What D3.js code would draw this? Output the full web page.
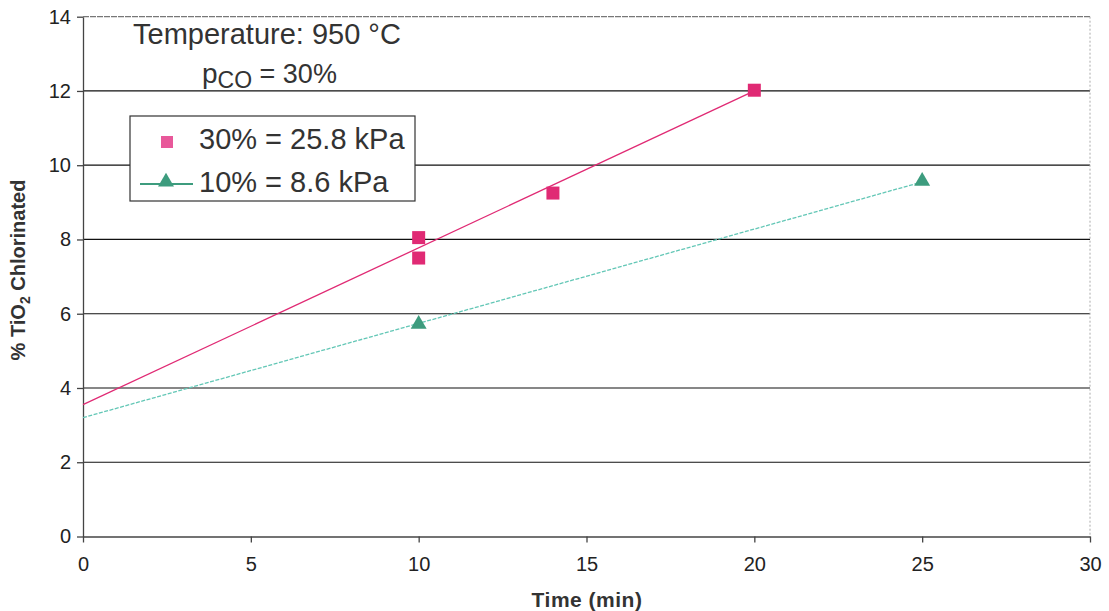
<!DOCTYPE html>
<html><head><meta charset="utf-8">
<script src="https://cdn.jsdelivr.net/npm/d3@7"></script>
<style>body{margin:0;background:#fff;} text{font-family:"Liberation Sans",Arial,sans-serif;}</style>
</head><body><svg id="c" width="1109" height="611"></svg>
<script>
const xTicks = [0,5,10,15,20,25,30];
const yTicks = [0,2,4,6,8,10,12,14];
const s30x = [10,10,14,20];
const s30y = [8.05,7.5,9.25,12.02];
const s10x = [10,25];
const s10y = [5.72,9.57];
const trend30 = [[0,3.55],[20,12.0]];
const trend10 = [[0,3.2],[25,9.55]];
const legendLabels = ["30% = 25.8 kPa","10% = 8.6 kPa"];

const svg = d3.select("#c");
const x = d3.scaleLinear().domain([0,30]).range([83,1090]);
const y = d3.scaleLinear().domain([0,14]).range([536.5,16.7]);
const pink="#e02a74", green="#3d9c7e", teal="#63c7b6";

svg.append("g").selectAll("line").data(yTicks.filter(d=>d>0&&d<14)).join("line")
  .attr("x1",x(0)).attr("x2",x(30)).attr("y1",d=>y(d)).attr("y2",d=>y(d))
  .attr("stroke","#111").attr("stroke-width",1.2);
svg.append("line").attr("x1",x(0)).attr("x2",x(30)).attr("y1",y(14)).attr("y2",y(14))
  .attr("stroke","#777").attr("stroke-width",1.3).attr("stroke-dasharray","6,1");
svg.append("line").attr("x1",x(30)).attr("x2",x(30)).attr("y1",y(14)).attr("y2",y(0))
  .attr("stroke","#aaa").attr("stroke-width",1).attr("stroke-dasharray","2,2");

const xa = svg.append("g").attr("transform",`translate(0,${y(0)})`)
  .call(d3.axisBottom(x).tickValues(xTicks).tickSize(6).tickSizeOuter(0).tickPadding(14));
const ya = svg.append("g").attr("transform",`translate(${x(0)},0)`)
  .call(d3.axisLeft(y).tickValues(yTicks).tickSize(6).tickSizeOuter(0).tickPadding(6));
[xa,ya].forEach(a=>{a.selectAll("path,line").attr("stroke","#444").attr("stroke-width",1.3);
  a.selectAll("text").attr("fill","#222").style("font-size","20px").style("font-family","Liberation Sans, Arial, sans-serif");});

const line = d3.line().x(d=>x(d[0])).y(d=>y(d[1]));
svg.append("path").attr("d",line(trend10)).attr("fill","none").attr("stroke",teal).attr("stroke-width",1.3).attr("stroke-dasharray","4,1.5");
svg.append("path").attr("d",line(trend30)).attr("fill","none").attr("stroke",pink).attr("stroke-width",1.3);

svg.append("g").selectAll("rect").data(s30x.map((v,i)=>[v,s30y[i]])).join("rect")
  .attr("x",d=>x(d[0])-6.5).attr("y",d=>y(d[1])-6.5).attr("width",13).attr("height",13).attr("fill",pink);
const tri = d3.symbol().type(d3.symbolTriangle).size(110);
svg.append("g").selectAll("path").data(s10x.map((v,i)=>[v,s10y[i]])).join("path")
  .attr("d",tri).attr("transform",d=>`translate(${x(d[0])},${y(d[1])})`).attr("fill",green);

svg.append("text").attr("x",133).attr("y",44).attr("fill","#333").style("font-size","29px").text("Temperature: 950 °C");
const p = svg.append("text").attr("x",202).attr("y",83).attr("fill","#333").style("font-size","28px");
p.append("tspan").text("p");
p.append("tspan").attr("dy",5).style("font-size","23px").text("CO");
p.append("tspan").attr("dy",-5).style("font-size","27px").text(" = 30%");

svg.append("rect").attr("x",130).attr("y",116).attr("width",285).attr("height",85).attr("fill","#fff").attr("stroke","#333").attr("stroke-width",1.2);
svg.append("rect").attr("x",161).attr("y",136).attr("width",12).attr("height",12).attr("fill","#e8589a");
svg.append("line").attr("x1",140).attr("x2",193).attr("y1",184).attr("y2",184).attr("stroke",green).attr("stroke-width",2);
svg.append("path").attr("d",tri).attr("transform","translate(166,182)").attr("fill",green);
svg.selectAll("text.leg").data(legendLabels).join("text").attr("class","leg")
  .attr("x",199).attr("y",(d,i)=>149+i*43).attr("fill","#333").style("font-size","29px").text(d=>d);

svg.append("text").attr("x",587).attr("y",607).attr("text-anchor","middle").attr("fill","#333")
  .style("font-size","21px").style("letter-spacing","0.5px").style("font-weight","bold").text("Time (min)");
const yt = svg.append("text").attr("transform","translate(25,270) rotate(-90)").attr("text-anchor","middle").attr("fill","#333")
  .style("font-size","20px").style("font-weight","bold");
yt.append("tspan").text("% TiO");
yt.append("tspan").attr("dy",5).style("font-size","14px").text("2");
yt.append("tspan").attr("dy",-5).text(" Chlorinated");
</script></body></html>
